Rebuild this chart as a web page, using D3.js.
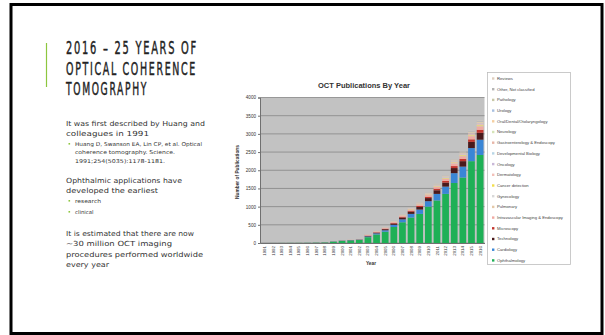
<!DOCTYPE html>
<html>
<head>
<meta charset="utf-8">
<script src="https://cdn.jsdelivr.net/npm/d3@7"></script>
<style>
  body { margin: 0; background: #fff; }
  svg { display: block; }
</style>
</head>
<body>
<div id="slide"></div>
<script>
// ---- chart data ----
const years = ['1991', '1992', '1993', '1994', '1995', '1996', '1997', '1998', '1999', '2000', '2001', '2002', '2003',
  '2004', '2005', '2006', '2007', '2008', '2009', '2010', '2011', '2012', '2013', '2014', '2015', '2016'];

const ophthalmology = [0, 1, 2, 3, 4, 5, 8, 14, 38, 58, 70, 85, 160, 235, 310, 440, 570, 700, 800, 1000, 1170, 1350, 1650, 1800, 2250, 2420];
const cardiology = [0, 0, 0, 0, 0, 1, 1, 2, 4, 6, 7, 9, 20, 30, 40, 60, 80, 100, 120, 150, 180, 200, 270, 300, 360, 420];
const technology = [0, 0, 0, 0, 0, 0, 1, 1, 2, 3, 4, 5, 15, 20, 30, 35, 50, 60, 70, 85, 100, 110, 140, 150, 170, 190];
const microscopy = [0, 0, 0, 0, 0, 0, 0, 1, 1, 2, 2, 3, 8, 10, 12, 15, 20, 25, 30, 35, 40, 45, 55, 60, 70, 80];
const intravascular = [0, 0, 0, 0, 1, 1, 1, 1, 2, 3, 3, 4, 20, 18, 20, 25, 30, 35, 40, 45, 50, 55, 70, 75, 85, 95];
const pulmonary = [0, 0, 0, 0, 0, 0, 0, 0, 0, 0, 0, 0, 1, 1, 2, 3, 4, 5, 6, 7, 8, 9, 11, 12, 14, 15];
const gynecology = [0, 0, 0, 0, 0, 0, 0, 0, 0, 0, 0, 0, 0, 1, 1, 2, 2, 3, 3, 4, 5, 5, 6, 7, 8, 9];
const cancerDetection = [0, 0, 0, 0, 0, 0, 0, 0, 0, 0, 0, 1, 1, 2, 3, 4, 5, 6, 8, 9, 10, 12, 14, 15, 17, 18];
const dermatology = [0, 0, 0, 0, 0, 0, 0, 0, 0, 1, 1, 1, 2, 3, 4, 5, 6, 7, 8, 10, 11, 12, 14, 15, 17, 19];
const oncology = [0, 0, 0, 0, 0, 0, 0, 0, 0, 0, 0, 1, 1, 1, 2, 2, 3, 4, 5, 5, 6, 7, 8, 9, 10, 11];
const devBiology = [0, 0, 0, 0, 0, 0, 0, 0, 0, 0, 1, 1, 2, 2, 3, 3, 4, 5, 5, 6, 7, 8, 9, 10, 11, 12];
const gastro = [0, 0, 0, 0, 0, 0, 0, 0, 1, 1, 1, 1, 2, 3, 4, 5, 6, 7, 8, 10, 11, 12, 15, 16, 18, 20];
const neurology = [0, 0, 0, 0, 0, 0, 0, 0, 0, 0, 0, 0, 1, 1, 1, 2, 2, 3, 3, 4, 5, 5, 6, 7, 8, 9];
const oralDental = [0, 0, 0, 0, 0, 0, 0, 0, 0, 0, 1, 1, 1, 2, 2, 3, 4, 4, 5, 6, 7, 8, 9, 10, 11, 12];
const urology = [0, 0, 0, 0, 0, 0, 0, 0, 0, 0, 0, 0, 1, 1, 1, 1, 2, 2, 2, 3, 3, 4, 4, 5, 5, 6];
const pathology = [0, 0, 0, 0, 0, 0, 0, 0, 0, 0, 0, 0, 0, 1, 1, 1, 1, 2, 2, 2, 3, 3, 4, 4, 5, 5];
const otherNotClassified = [0, 0, 0, 0, 0, 0, 0, 1, 1, 1, 1, 1, 2, 3, 4, 5, 6, 7, 8, 9, 10, 11, 13, 14, 16, 18];
const reviews = [0, 0, 0, 0, 0, 0, 0, 0, 0, 0, 0, 1, 1, 1, 2, 2, 3, 3, 4, 4, 5, 6, 7, 8, 9, 10];

// stack order, bottom to top
const seriesNames = ['Ophthalmology', 'Cardiology', 'Technology', 'Microscopy', 'Intravascular Imaging & Endoscopy',
  'Pulmonary', 'Gynecology', 'Cancer detection', 'Dermatology', 'Oncology', 'Developmental Biology',
  'Gastroenterology & Endoscopy', 'Neurology', 'Oral/Dental/Otolaryngology', 'Urology', 'Pathology',
  'Other, Not classified', 'Reviews'];
const seriesValues = [ophthalmology, cardiology, technology, microscopy, intravascular, pulmonary, gynecology,
  cancerDetection, dermatology, oncology, devBiology, gastro, neurology, oralDental, urology, pathology,
  otherNotClassified, reviews];
const seriesColors = ['#1eb056', '#3a86d6', '#4a1a1c', '#c4362e', '#f0aaa2', '#e4c8a8', '#d9d9d9', '#f3df4c',
  '#f2c0b8', '#c9b8d8', '#b8d6e6', '#e8b6a8', '#d6e4b8', '#f5cfa0', '#a8c0e0', '#c8c8a8', '#b4b4b4', '#e0d0c0'];
const yTicks = [0, 500, 1000, 1500, 2000, 2500, 3000, 3500, 4000];

// ---- slide text ----
const titleLines = ['2016 \u2013 25 YEARS OF', 'OPTICAL COHERENCE', 'TOMOGRAPHY'];

const width = 605;
const height = 335;

const svg = d3
  .select('#slide')
  .append('svg')
  .attr('width', width)
  .attr('height', height);

svg.append('rect').attr('width', width).attr('height', height).attr('fill', '#fff');

// slide frame
svg
  .append('rect')
  .attr('x', 11)
  .attr('y', 4.5)
  .attr('width', 591)
  .attr('height', 329)
  .attr('fill', 'none')
  .attr('stroke', '#000')
  .attr('stroke-width', 3);

// green accent
svg
  .append('line')
  .attr('x1', 46.5)
  .attr('x2', 46.5)
  .attr('y1', 43)
  .attr('y2', 87)
  .attr('stroke', '#8dc63f')
  .attr('stroke-width', 1.2);

// condensed look: glyphs squeezed to the measured width
const titleWidths = [132, 131, 82];
titleLines.forEach((t, i) => {
  svg
    .append('text')
    .attr('x', 66)
    .attr('y', 54 + i * 20.7)
    .attr('textLength', titleWidths[i])
    .attr('lengthAdjust', 'spacingAndGlyphs')
    .style('font-family', '"DejaVu Sans", sans-serif')
    .style('letter-spacing', '3px')
    .style('font-size', '17px')
    .style('fill', '#222')
    .style('stroke', '#222')
    .style('stroke-width', '0.45px')
    .text(t);
});

// body text: [text, level, baseline, width]
const bodyLines = [
  ['It was first described by Huang and', 0, 125.5, 139],
  ['colleagues in 1991', 0, 135.5, 83],
  ['Huang D, Swanson EA, Lin CP, et al. Optical', 1, 146, 127],
  ['coherence tomography. Science.', 1, 154.3, 100],
  ['1991;254(5035):1178-1181.', 1, 162.8, 90],
  ['Ophthalmic applications have', 0, 182.5, 116],
  ['developed the earliest', 0, 192.5, 92],
  ['research', 1, 203, 26],
  ['clinical', 1, 214, 18.5],
  ['It is estimated that there are now', 0, 236, 128],
  ['~30 million OCT imaging', 0, 246, 106],
  ['procedures performed worldwide', 0, 256.5, 137],
  ['every year', 0, 267, 43]
];
const bulletFirst = [false, false, true, false, false, false, false, true, true, false, false, false, false];

bodyLines.forEach(([t, level, yy, w], i) => {
  svg
    .append('text')
    .attr('x', level ? 75 : 66)
    .attr('y', yy)
    .attr('textLength', w)
    .attr('lengthAdjust', 'spacingAndGlyphs')
    .style('font-family', '"DejaVu Sans", sans-serif')
    .style('font-size', level ? '5.3px' : '7px')
    .style('fill', '#333')
    .text(t);
  if (bulletFirst[i]) {
    svg
      .append('rect')
      .attr('x', 68.5)
      .attr('y', yy - 3)
      .attr('width', 1.6)
      .attr('height', 1.6)
      .attr('fill', '#8dc63f');
  }
});

// ---- chart ----
const plot = { left: 260, right: 484.5, top: 97.5, bottom: 243 };

const table = years.map((yr, i) => {
  const row = { year: yr };
  seriesNames.forEach((name, k) => {
    row[name] = seriesValues[k][i];
  });
  return row;
});

const stacked = d3.stack().keys(seriesNames)(table);

const x = d3
  .scaleBand()
  .domain(years)
  .range([plot.left, plot.right])
  .paddingInner(0.22)
  .paddingOuter(0.12);

const y = d3.scaleLinear().domain([0, 4000]).range([plot.bottom, plot.top]);

const color = d3.scaleOrdinal().domain(seriesNames).range(seriesColors);

const chart = svg.append('g').style('font-family', '"Liberation Sans", Arial, sans-serif');

chart
  .append('rect')
  .attr('x', plot.left)
  .attr('y', plot.top)
  .attr('width', plot.right - plot.left)
  .attr('height', plot.bottom - plot.top)
  .attr('fill', '#c2c2c2');

chart
  .selectAll('line.grid')
  .data(yTicks)
  .enter()
  .append('line')
  .attr('class', 'grid')
  .attr('x1', plot.left)
  .attr('x2', plot.right)
  .attr('y1', (d) => y(d))
  .attr('y2', (d) => y(d))
  .attr('stroke', '#858585')
  .attr('stroke-width', 0.8);

chart
  .selectAll('g.series')
  .data(stacked)
  .enter()
  .append('g')
  .attr('class', 'series')
  .attr('fill', (d) => color(d.key))
  .selectAll('rect')
  .data((d) => d)
  .enter()
  .append('rect')
  .attr('x', (d) => x(d.data.year))
  .attr('y', (d) => y(d[1]))
  .attr('height', (d) => y(d[0]) - y(d[1]))
  .attr('width', x.bandwidth());

// axes
const yAxis = chart
  .append('g')
  .attr('transform', `translate(${plot.left},0)`)
  .call(d3.axisLeft(y).tickValues(yTicks).tickFormat(d3.format('d')).tickSize(2).tickPadding(2));
yAxis.select('.domain').attr('stroke', '#707070');
yAxis.selectAll('line').attr('stroke', '#707070');
yAxis.selectAll('text').style('font-size', '4.6px').style('fill', '#333').style('font-family', null);

const xAxis = chart
  .append('g')
  .attr('transform', `translate(0,${plot.bottom})`)
  .call(d3.axisBottom(x).tickSize(0).tickSizeOuter(0));
xAxis.select('.domain').attr('stroke', '#707070');
xAxis
  .selectAll('text')
  .attr('transform', 'rotate(-90)')
  .attr('text-anchor', 'end')
  .attr('x', -3)
  .attr('y', 0)
  .attr('dy', '0.35em')
  .style('font-size', '4.4px')
  .style('fill', '#333')
  .style('font-family', null);

chart
  .append('text')
  .attr('x', 364)
  .attr('y', 87.5)
  .attr('text-anchor', 'middle')
  .style('font-size', '7.5px')
  .style('font-weight', 'bold')
  .style('fill', '#333')
  .text('OCT Publications By Year');

chart
  .append('text')
  .attr('transform', 'translate(238.5,172) rotate(-90)')
  .attr('text-anchor', 'middle')
  .style('font-size', '4.8px')
  .style('font-weight', 'bold')
  .style('fill', '#333')
  .text('Number of Publications');

chart
  .append('text')
  .attr('x', 371)
  .attr('y', 264.5)
  .attr('text-anchor', 'middle')
  .style('font-size', '4.8px')
  .style('font-weight', 'bold')
  .style('fill', '#333')
  .text('Year');

// legend (top series first, like the source)
const legend = chart.append('g');
legend
  .append('rect')
  .attr('x', 487.5)
  .attr('y', 72.5)
  .attr('width', 83)
  .attr('height', 192)
  .attr('fill', '#fff')
  .attr('stroke', '#bdbdbd')
  .attr('stroke-width', 0.8);

const legendItems = seriesNames.slice().reverse();
legendItems.forEach((name, i) => {
  const cy = 78.5 + i * 10.7;
  legend
    .append('rect')
    .attr('x', 492)
    .attr('y', cy - 1.2)
    .attr('width', 2.4)
    .attr('height', 2.4)
    .attr('fill', color(name));
  legend
    .append('text')
    .attr('x', 497)
    .attr('y', cy)
    .attr('dy', '0.35em')
    .style('font-size', '4.2px')
    .style('fill', '#444')
    .text(name);
});
</script>
</body>
</html>
